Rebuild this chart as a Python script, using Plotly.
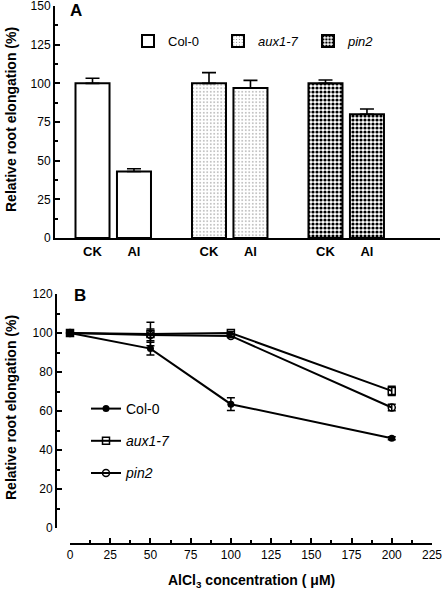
import plotly.graph_objects as go

W, H = 443, 591
FONT = "Liberation Sans, Arial, Helvetica, sans-serif"

def fx(p):
    return p / W

def fy(p):
    return 1 - p / H

# ---------------- Panel A data ----------------
genotypes = ["Col-0", "aux1-7", "pin2"]
genotype_labels = ["Col-0", "<i>aux1-7</i>", "<i>pin2</i>"]
treatments = ["CK", "Al"]
col0_bar = [100, 43]
aux1_bar = [100, 97]
pin2_bar = [100, 80]
col0_bar_err = [3.3, 1.8]
aux1_bar_err = [6.9, 4.9]
pin2_bar_err = [2.2, 3.4]

# ---------------- Panel B data ----------------
conc = [0, 50, 100, 200]
col0_line = [100, 92, 63.5, 46]
col0_line_err = [1.0, 3.3, 3.3, 0.8]
aux1_line = [100, 99.5, 100, 70.3]
aux1_line_err = [1.5, 6.0, 0.8, 2.4]
pin2_line = [100, 99, 98.5, 61.8]
pin2_line_err = [1.0, 3.0, 0.8, 1.7]

fig = go.Figure()

# bars
offset = 0.178
bar_w = 0.292
bar_sets = [col0_bar, aux1_bar, pin2_bar]
bar_errs = [col0_bar_err, aux1_bar_err, pin2_bar_err]
patterns = [
    dict(shape=""),
    dict(shape=".", size=3.5, solidity=0.1, fgcolor="#666666", bgcolor="white"),
    dict(shape=".", size=4, solidity=0.5, fgcolor="black", bgcolor="white"),
]
tickvals = []
ticktext = []
for g, (name, vals, errs, pat) in enumerate(zip(genotype_labels, bar_sets, bar_errs, patterns), start=1):
    xs = [g - offset, g + offset]
    tickvals += xs
    ticktext += ["<b>%s</b>" % t for t in treatments]
    fig.add_trace(go.Bar(
        x=xs, y=vals, width=bar_w, name=name,
        marker=dict(color="white", line=dict(color="black", width=2), pattern=pat),
        error_y=dict(type="data", symmetric=False, array=errs, arrayminus=[0, 0],
                     color="black", thickness=1.6, width=7),
        xaxis="x", yaxis="y", legend="legend",
    ))

# lines
line_sets = [
    ("Col-0", col0_line, col0_line_err, dict(symbol="circle", size=7, color="black")),
    ("<i>aux1-7</i>", aux1_line, aux1_line_err,
     dict(symbol="square-open", size=7, color="black", line=dict(width=1.5, color="black"))),
    ("<i>pin2</i>", pin2_line, pin2_line_err,
     dict(symbol="circle-open", size=7, color="black", line=dict(width=1.5, color="black"))),
]
for i, (name, vals, errs, mk) in enumerate(line_sets):
    fig.add_trace(go.Scatter(
        x=conc, y=vals, name=name, mode="lines+markers",
        line=dict(color="black", width=2), marker=mk,
        error_y=dict(type="data", array=errs, color="black", thickness=1.5, width=4),
        xaxis="x2", yaxis="y2", legend="legend2", legendgroup="g%d" % i,
        cliponaxis=False,
    ))

axis_common = dict(showline=True, linecolor="black", linewidth=2, showgrid=False,
                   zeroline=False, automargin=False, ticklabeloverflow="allow")
tickfont = dict(family=FONT, size=12, color="black")

fig.update_layout(
    width=W, height=H, template="none",
    margin=dict(l=0, r=0, t=0, b=0),
    paper_bgcolor="white", plot_bgcolor="white",
    barmode="overlay",
    font=dict(family=FONT, color="black", size=13),
    xaxis=dict(domain=[fx(55), fx(440)], range=[0.5, 3.805], anchor="y",
               tickvals=tickvals, ticktext=ticktext, ticks="",
               tickfont=dict(family=FONT, size=13, color="black"), **axis_common),
    yaxis=dict(domain=[fy(238), fy(6)], range=[0, 150.01], anchor="x",
               tickvals=[0, 25, 50, 75, 100, 125, 150], ticks="inside", ticklen=5,
               tickwidth=1.5, tickcolor="black", tickfont=tickfont,
               minor=dict(tickvals=[12.5, 37.5, 62.5, 87.5, 112.5, 137.5], ticks="inside",
                          ticklen=3, tickwidth=1.5, tickcolor="black"),
               **axis_common),
    xaxis2=dict(domain=[fx(70), fx(432)], range=[0, 225.01], anchor="free", position=fy(544),
                tickvals=list(range(0, 226, 25)), ticks="inside", ticklen=5,
                tickwidth=1.5, tickcolor="black", tickfont=tickfont,
                minor=dict(tickvals=[12.5 + 25 * k for k in range(9)], ticks="inside",
                           ticklen=3, tickwidth=1.5, tickcolor="black"),
                **axis_common),
    yaxis2=dict(domain=[fy(528), fy(294)], range=[0, 120.01], anchor="free", position=fx(56),
                tickvals=list(range(0, 121, 20)), ticks="inside", ticklen=5,
                tickwidth=1.5, tickcolor="black", tickfont=tickfont,
                minor=dict(tickvals=[10 + 20 * k for k in range(6)], ticks="inside",
                           ticklen=3, tickwidth=1.5, tickcolor="black"),
                **axis_common),
    legend=dict(orientation="h", x=fx(128), y=fy(26), xanchor="left", yanchor="top",
                bgcolor="rgba(0,0,0,0)", font=dict(family=FONT, size=13),
                entrywidth=45, itemwidth=30),
    legend2=dict(orientation="v", x=fx(86), y=fy(393), xanchor="left", yanchor="top",
                 bgcolor="rgba(0,0,0,0)", font=dict(family=FONT, size=14),
                 traceorder="grouped", tracegroupgap=11, itemwidth=30),
    showlegend=True,
)

annots = [
    dict(text="<b>A</b>", x=fx(76), y=fy(10), size=17),
    dict(text="<b>B</b>", x=fx(80), y=fy(295), size=17),
    dict(text="<b>Relative root elongation (%)</b>", x=fx(11), y=fy(120), textangle=-90, size=14),
    dict(text="<b>Relative root elongation (%)</b>", x=fx(11), y=fy(408), textangle=-90, size=14),
    dict(text="<b>AlCl<sub>3</sub> concentration ( μM)</b>", x=fx(251), y=fy(581), size=14),
]
for a in annots:
    size = a.pop("size")
    fig.add_annotation(xref="paper", yref="paper", showarrow=False,
                       xanchor="center", yanchor="middle",
                       font=dict(family=FONT, color="black", size=size), **a)

fig.write_html("out.html", config={"displayModeBar": False},
               post_script="document.body.style.margin='0';")
